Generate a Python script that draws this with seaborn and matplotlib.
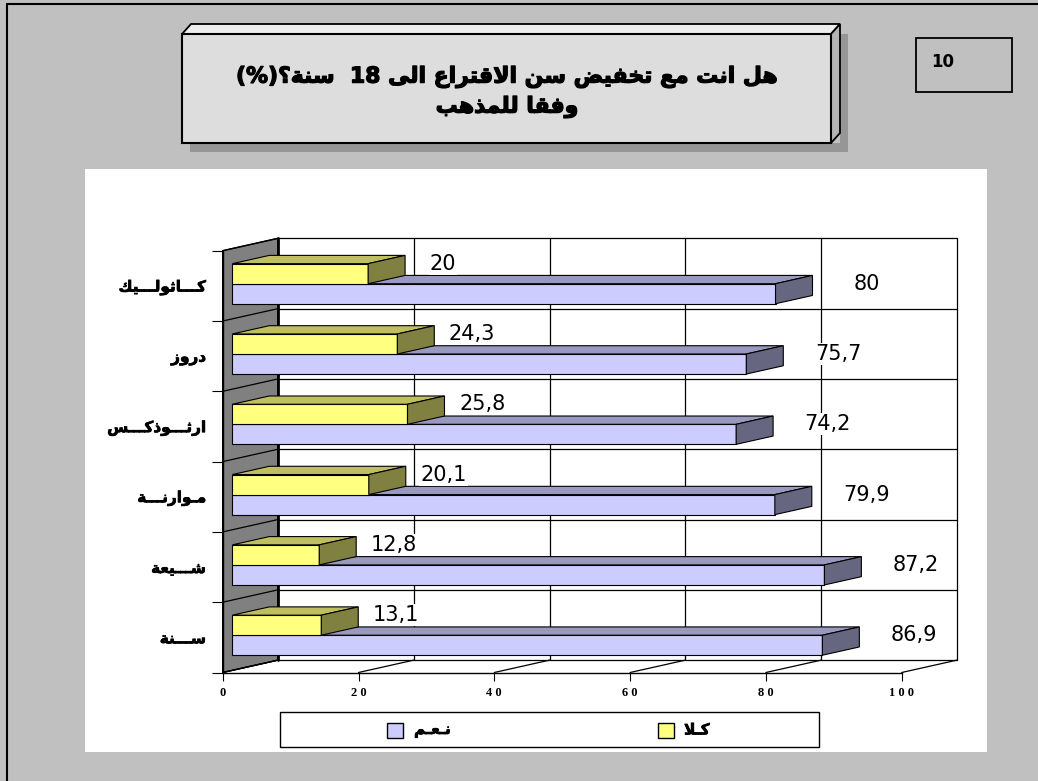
import re
import pandas as pd
import matplotlib
matplotlib.use('Agg')
import matplotlib.pyplot as plt
import matplotlib.patheffects as pe
from matplotlib.patches import Polygon, Rectangle
import seaborn as sns

# data
categories = ['كاثوليك', 'دروز', 'ارثوذكس', 'موارنة', 'شيعة', 'سنة']
cat_labels = ['كـــاثولـــيك', 'دروز', 'ارثـــوذكـــس', 'مـوارنـــة', 'شـــيعة', 'ســـنة']
yes_vals = [80, 75.7, 74.2, 79.9, 87.2, 86.9]
no_vals = [20, 24.3, 25.8, 20.1, 12.8, 13.1]
x_ticks = [0, 20, 40, 60, 80, 100]
x_ticklabels = ['0', '2 0', '4 0', '6 0', '8 0', '1 0 0']
title_1 = 'هل انت مع تخفيض سن الاقتراع الى 18  سنة؟(%)'
title_2 = 'وفقا للمذهب'
legend_yes = 'نـعـم'
legend_no = 'كـلا'
page_no = '10'

# --- simple arabic shaping (no reshaper available) ---
DUAL = {'ب': 0xFE8F, 'ت': 0xFE95, 'ث': 0xFE99, 'ج': 0xFE9D, 'ح': 0xFEA1, 'خ': 0xFEA5,
        'س': 0xFEB1, 'ش': 0xFEB5, 'ص': 0xFEB9, 'ض': 0xFEBD, 'ط': 0xFEC1, 'ظ': 0xFEC5,
        'ع': 0xFEC9, 'غ': 0xFECD, 'ف': 0xFED1, 'ق': 0xFED5, 'ك': 0xFED9, 'ل': 0xFEDD,
        'م': 0xFEE1, 'ن': 0xFEE5, 'ه': 0xFEE9, 'ي': 0xFEF1}
RIGHT = {'ا': 0xFE8D, 'ة': 0xFE93, 'د': 0xFEA9, 'ذ': 0xFEAB, 'ر': 0xFEAD, 'ز': 0xFEAF,
         'و': 0xFEED, 'ى': 0xFEEF}
TATWEEL = 'ـ'


def joins_next(c):
    return c in DUAL or c == TATWEEL


def joins_prev(c):
    return c in DUAL or c in RIGHT or c == TATWEEL


def shape(s):
    out = []
    i = 0
    while i < len(s):
        c = s[i]
        prev = s[i - 1] if i > 0 else ''
        jp = prev != '' and joins_next(prev) and joins_prev(c)
        if c == 'ل' and i + 1 < len(s) and s[i + 1] == 'ا':
            out.append(chr(0xFEFC if jp else 0xFEFB))
            i += 2
            continue
        nxt = s[i + 1] if i + 1 < len(s) else ''
        jn = joins_next(c) and nxt != '' and joins_prev(nxt)
        if c in DUAL:
            out.append(chr(DUAL[c] + (3 if jp and jn else 1 if jp else 2 if jn else 0)))
        elif c in RIGHT:
            out.append(chr(RIGHT[c] + (1 if jp else 0)))
        else:
            out.append(c)
        i += 1
    return ''.join(out)


def ar(s):
    t = shape(s)[::-1]
    t = re.sub(r'[0-9]+', lambda m: m.group(0)[::-1], t)
    return t.translate(str.maketrans('()', ')('))


sns.set_theme(style='white')
plt.rcParams['font.family'] = ['DejaVu Sans']
plt.rcParams['text.color'] = 'black'
plt.rcParams['xtick.color'] = 'black'
plt.rcParams['ytick.color'] = 'black'
plt.rcParams['xtick.labelcolor'] = 'black'
plt.rcParams['ytick.labelcolor'] = 'black'

heavy = [pe.withStroke(linewidth=0.9, foreground='black')]
semi = [pe.withStroke(linewidth=0.5, foreground='black')]

W, H = 1038, 781
fig = plt.figure(figsize=(W / 100, H / 100), dpi=100)
fig.patch.set_facecolor('#C0C0C0')

# background / decoration layer in pixel coords
bg = fig.add_axes([0, 0, 1, 1], zorder=-1)
bg.set_xlim(0, W)
bg.set_ylim(H, 0)
bg.axis('off')
bg.plot([7, 7], [4, H], color='black', lw=1.5)
bg.plot([7, W], [4, 4], color='black', lw=1.5)
bg.add_patch(Rectangle((85, 169), 902, 583, facecolor='white', edgecolor='none'))

# title box with shadow and bevel
bg.add_patch(Polygon([(190, 143), (848, 143), (848, 152), (190, 152)], closed=True,
                     facecolor='#969696', edgecolor='none'))
bg.add_patch(Polygon([(840, 34), (848, 34), (848, 152), (840, 152)], closed=True,
                     facecolor='#969696', edgecolor='none'))
bg.add_patch(Polygon([(182, 34), (191, 24), (840, 24), (831, 34)], closed=True,
                     facecolor='#EEEEEE', edgecolor='black', lw=1.3))
bg.add_patch(Polygon([(831, 34), (840, 24), (840, 133), (831, 143)], closed=True,
                     facecolor='#B4B4B4', edgecolor='black', lw=1.3))
bg.add_patch(Rectangle((182, 34), 649, 109, facecolor='#DDDDDD', edgecolor='black', lw=1.5))
bg.text(507, 77, ar(title_1), ha='center', va='center', fontsize=15.8, fontweight='bold',
        path_effects=heavy)
bg.text(507, 107, ar(title_2), ha='center', va='center', fontsize=15.8, fontweight='bold',
        path_effects=heavy)

bg.add_patch(Rectangle((916, 38), 96, 54, facecolor='none', edgecolor='black', lw=1.3))
bg.text(943, 62, page_no, ha='center', va='center', fontsize=12, fontweight='bold')

# legend
bg.add_patch(Rectangle((280, 712), 539, 35, facecolor='white', edgecolor='black', lw=1))
bg.add_patch(Rectangle((387, 723), 16, 15, facecolor='#CCCCFF', edgecolor='black', lw=1))
bg.text(414, 730, ar(legend_yes), ha='left', va='center', fontsize=11, fontweight='bold',
        path_effects=semi)
bg.add_patch(Rectangle((658, 723), 16, 15, facecolor='#FFFF80', edgecolor='black', lw=1))
bg.text(684, 730, ar(legend_no), ha='left', va='center', fontsize=11, fontweight='bold',
        path_effects=semi)

# chart axes: front plane of the 3d box
ax = fig.add_axes([222.7 / W, (H - 672.5) / H, 679 / W, 421.8 / H])
ax.patch.set_alpha(0)

df = pd.DataFrame({'cat': categories * 2,
                   'answer': ['no'] * len(no_vals) + ['yes'] * len(yes_vals),
                   'value': no_vals + yes_vals})
sns.barplot(data=df, y='cat', x='value', hue='answer', hue_order=['no', 'yes'],
            palette={'no': '#FFFF80', 'yes': '#CCCCFF'}, saturation=1, width=0.57,
            orient='h', errorbar=None, legend=False, edgecolor='black', linewidth=0.8, ax=ax)

ax.set_xlim(0, 100)
ax.set_ylim(5.5, -0.5)
n = len(categories)

# depth of the box (data units) and bar depth range
DX, DY = 8.14, -0.176
z0, z1 = 0.174, 0.843
bdx, bdy = (z1 - z0) * DX, (z1 - z0) * DY

# walls
lw_grid = 0.9
ax.add_patch(Polygon([(0, -0.5), (DX, -0.5 + DY), (DX, n - 0.5 + DY), (0, n - 0.5)],
                     closed=True, facecolor='#808080', edgecolor='black', lw=1,
                     clip_on=False, zorder=0.5))
for k in range(n + 1):
    yb = k - 0.5
    ax.plot([0, DX], [yb, yb + DY], color='black', lw=lw_grid, clip_on=False, zorder=0.6)
    ax.plot([DX, 100 + DX], [yb + DY, yb + DY], color='black', lw=lw_grid, clip_on=False, zorder=0.6)
for xv in x_ticks:
    ax.plot([xv + DX, xv + DX], [-0.5 + DY, n - 0.5 + DY], color='black',
            lw=2 if xv == 0 else lw_grid, clip_on=False, zorder=0.6)
    ax.plot([xv, xv + DX], [n - 0.5, n - 0.5 + DY], color='black', lw=lw_grid,
            clip_on=False, zorder=0.6)

# 3d bars: shift front faces back, add top and side faces
bars = [b for b in ax.patches if isinstance(b, Rectangle) and b.get_width() > 0]
for b in bars:
    fc = b.get_facecolor()
    is_no = fc[2] < 0.7
    zo = 3 if is_no else 2
    b.set_x(b.get_x() + z0 * DX)
    b.set_y(b.get_y() + z0 * DY)
    b.set_zorder(zo)
    x0, y0 = b.get_x(), b.get_y()
    x1, y1 = x0 + b.get_width(), y0 + b.get_height()
    top = tuple(c * 0.75 for c in fc[:3])
    side = tuple(c * 0.5 for c in fc[:3])
    ax.add_patch(Polygon([(x0, y0), (x1, y0), (x1 + bdx, y0 + bdy), (x0 + bdx, y0 + bdy)],
                         closed=True, facecolor=top, edgecolor='black', lw=0.8,
                         clip_on=False, zorder=zo))
    ax.add_patch(Polygon([(x1, y0), (x1, y1), (x1 + bdx, y1 + bdy), (x1 + bdx, y0 + bdy)],
                         closed=True, facecolor=side, edgecolor='black', lw=0.8,
                         clip_on=False, zorder=zo))
    val = b.get_width()
    txt = ('%g' % round(val, 1)).replace('.', ',')
    off = 11 if is_no else 13.5
    ax.text(x1 + off, y0, txt, ha='center', va='center', fontsize=15,
            zorder=4, clip_on=False,
            bbox=dict(boxstyle='square,pad=0.05', facecolor='white', edgecolor='none'))

# axes styling
for s in ['top', 'right']:
    ax.spines[s].set_visible(False)
for s in ['left', 'bottom']:
    ax.spines[s].set_color('black')
    ax.spines[s].set_linewidth(1)
    ax.spines[s].set_zorder(1)
ax.set_xlabel('')
ax.set_ylabel('')
ax.set_xticks(x_ticks)
ax.set_xticklabels(x_ticklabels, fontfamily='Liberation Serif', fontweight='bold', fontsize=9)
ax.tick_params(axis='x', length=5.4, width=0.8, color='black', direction='out', pad=5, bottom=True)
ax.set_yticks(range(n))
ax.set_yticklabels([ar(c) for c in cat_labels], fontweight='bold', fontsize=11)
for t in ax.get_yticklabels():
    t.set_path_effects(semi)
ax.set_yticks([k - 0.5 for k in range(n + 1)], minor=True)
ax.tick_params(axis='y', which='major', length=0, pad=12)
ax.tick_params(axis='y', which='minor', length=7.7, width=0.8, color='black', direction='out', left=True)
ax.grid(False)

fig.savefig('out.png', dpi=100, facecolor=fig.get_facecolor())
